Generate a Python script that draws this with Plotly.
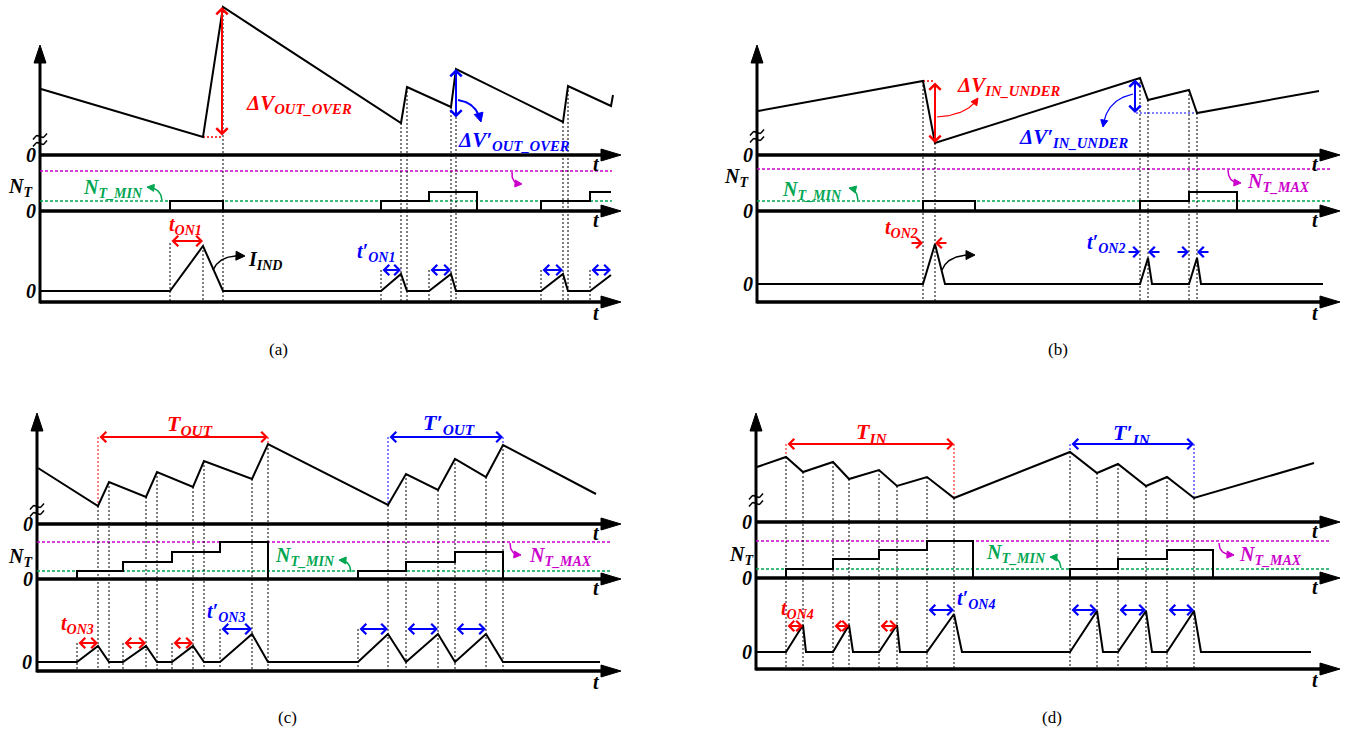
import numpy as np
import plotly.graph_objects as go

W, H = 1347, 730
FONT = "Liberation Serif, Times New Roman, DejaVu Serif, serif"
RED, BLUE, GREEN, MAG, BLACK = "#FF0000", "#0000FF", "#00A651", "#CC00CC", "#000000"

# ---------------- panel (a) data ----------------
A_V_X = [41, 203, 223, 401, 407, 451, 456, 563, 568, 611, 613]
A_V_Y = [89, 137, 7, 123, 87, 107, 69, 122, 86, 106, 95]
A_N_X = [40, 170, 170, 223, 223, 381, 381, 429, 429, 477, 477, 541, 541, 590, 590, 611]
A_N_Y = [211, 211, 201, 201, 211, 211, 201, 201, 192, 192, 211, 211, 201, 201, 192, 192]
A_I_X = [40, 170, 203, 223, 381, 401, 407, 429, 451, 456, 541, 563, 568, 590, 611]
A_I_Y = [291, 291, 246, 291, 291, 274, 291, 291, 274, 291, 291, 274, 291, 291, 275]
A_SYNC_X = [223, 401, 407, 451, 456, 563, 568]
A_ON_X = [170, 203, 381, 429, 541, 590]
A_ON_TOP = [243, 246, 270, 270, 270, 270]
A_TON_RED = [[170, 203]]
A_TON_BLUE = [[381, 401], [429, 451], [541, 563], [590, 611]]

# ---------------- panel (b) data ----------------
B_V_X = [758, 923, 935, 1140, 1148, 1189, 1197, 1319]
B_V_Y = [111, 81, 143, 78, 100, 90, 113, 91]
B_N_X = [757, 923, 923, 975, 975, 1140, 1140, 1189, 1189, 1237, 1237]
B_N_Y = [211, 211, 201, 201, 211, 211, 201, 201, 192, 192, 211]
B_I_X = [757, 923, 935, 945, 1140, 1148, 1152, 1189, 1197, 1201, 1323]
B_I_Y = [284, 284, 244, 284, 284, 258, 284, 284, 258, 284, 284]
B_SYNC_X = [923, 935, 1140, 1148, 1189, 1197]

# ---------------- panel (c) data ----------------
C_V_X = [38, 98, 109, 146, 157, 193, 204, 252, 268, 388, 406, 438, 455, 486, 503, 596]
C_V_Y = [468, 506, 482, 497, 472, 487, 461, 479, 444, 505, 474, 490, 459, 477, 445, 494]
C_N_X = [37, 77, 77, 123, 123, 172, 172, 220, 220, 268, 268, 358, 358, 406, 406, 455, 455, 503, 503]
C_N_Y = [579, 579, 571, 571, 562, 562, 552, 552, 542, 542, 579, 579, 571, 571, 562, 562, 552, 552, 579]
C_I_X = [37, 77, 98, 109, 123, 146, 157, 172, 193, 204, 220, 252, 268, 358, 388, 406, 438, 455, 486, 503, 600]
C_I_Y = [662, 662, 646, 662, 662, 646, 662, 662, 646, 662, 662, 634, 662, 662, 634, 662, 634, 662, 634, 662, 662]
C_SYNC_X = [98, 109, 146, 157, 193, 204, 252, 268, 388, 406, 438, 455, 486, 503]
C_ON_X = [77, 123, 172, 220, 358]
C_ON_TOP = [643, 643, 643, 629, 629]
C_TON_RED = [[77, 98], [123, 146], [172, 193]]
C_TON_BLUE = [[220, 252], [358, 388], [406, 438], [455, 486]]

# ---------------- panel (d) data ----------------
D_V_X = [757, 786, 803, 833, 849, 879, 897, 927, 954, 1070, 1097, 1118, 1146, 1167, 1194, 1314]
D_V_Y = [467, 457, 472, 462, 479, 470, 486, 477, 498, 452, 473, 464, 486, 477, 498, 463]
D_N_X = [756, 786, 786, 833, 833, 879, 879, 927, 927, 973, 973, 1070, 1070, 1118, 1118, 1167, 1167, 1213, 1213]
D_N_Y = [578, 578, 569, 569, 559, 559, 550, 550, 541, 541, 578, 578, 569, 569, 559, 559, 550, 550, 578]
D_I_X = [756, 786, 803, 806, 833, 849, 853, 879, 897, 900, 927, 954, 962, 1070, 1097, 1103, 1118, 1146, 1152, 1167, 1194, 1201, 1311]
D_I_Y = [652, 652, 625, 652, 652, 625, 652, 652, 625, 652, 652, 614, 652, 652, 611, 652, 652, 611, 652, 652, 611, 652, 652]
D_SYNC_X = [786, 803, 833, 849, 879, 897, 927, 954, 1070, 1097, 1118, 1146, 1167, 1194]
D_TON_RED = [[786, 803], [833, 849], [879, 897]]
D_TON_BLUE = [[927, 954], [1070, 1097], [1118, 1146], [1167, 1194]]

# panel frames (layout)
FRAMES = [
    dict(x0=40, xt=621, ytop=45, yv=155, yn=211, yi=302, ymag=171, ygrn=201, xd=612, brk=140),
    dict(x0=757, xt=1340, ytop=45, yv=155, yn=211, yi=302, ymag=169, ygrn=201, xd=1330, brk=136),
    dict(x0=37, xt=621, ytop=413, yv=524, yn=579, yi=671, ymag=542, ygrn=571, xd=612, brk=510),
    dict(x0=756, xt=1340, ytop=413, yv=522, yn=578, yi=669, ymag=541, ygrn=569, xd=1330, brk=500),
]

fig = go.Figure()
ann = []


def line(x, y, color=BLACK, width=2, dash=None):
    fig.add_trace(go.Scatter(x=x, y=y, mode="lines", hoverinfo="skip", showlegend=False,
                             line=dict(color=color, width=width, dash=dash)))


def poly(x, y, color=BLACK):
    fig.add_trace(go.Scatter(x=x, y=y, mode="lines", fill="toself", fillcolor=color,
                             hoverinfo="skip", showlegend=False, line=dict(color=color, width=1)))


def text(x, y, s, color=BLACK, size=18, xanchor="left", bold=True, italic=True, angle=0):
    t = s
    if italic:
        t = "<i>" + t + "</i>"
    if bold:
        t = "<b>" + t + "</b>"
    ann.append(dict(x=x, y=y, xref="x", yref="y", text=t, showarrow=False, xanchor=xanchor,
                    yanchor="middle", textangle=angle,
                    font=dict(family=FONT, size=size, color=color)))


def arrow(x0, y0, x1, y1, color, width=2, both=False, head=4, size=1.0):
    ann.append(dict(x=x1, y=y1, ax=x0, ay=y0, xref="x", yref="y", axref="x", ayref="y",
                    text="", showarrow=True, arrowhead=head, arrowsize=size, arrowwidth=width,
                    arrowcolor=color, arrowside="end+start" if both else "end",
                    startarrowhead=head, startarrowsize=size, standoff=0, startstandoff=0,
                    font=dict(size=10)))


def head(tip, frm, color, length=7.0, half=3.5):
    d = np.array(tip, float) - np.array(frm, float)
    d = d / np.hypot(*d)
    n = np.array([-d[1], d[0]])
    base = np.array(tip, float) - length * d
    p1 = base + half * n
    p2 = base - half * n
    poly([tip[0], p1[0], p2[0], tip[0]], [tip[1], p1[1], p2[1], tip[1]], color)


def curved(p0, c, p1, color, width=1.5, hl=7.0, hw=3.5):
    t = np.linspace(0, 1, 40)
    bx = (1 - t) ** 2 * p0[0] + 2 * (1 - t) * t * c[0] + t ** 2 * p1[0]
    by = (1 - t) ** 2 * p0[1] + 2 * (1 - t) * t * c[1] + t ** 2 * p1[1]
    line(list(bx[:-4]), list(by[:-4]), color=color, width=width)
    head((bx[-1], by[-1]), (bx[-6], by[-6]), color, hl, hw)


DOT = "2px,2px"

# ---------------- frames: axes, reference levels ----------------
for f in FRAMES:
    for yy in (f["yv"], f["yn"], f["yi"]):
        line([f["x0"], f["xt"] - 16], [yy, yy], width=3.5)
        poly([f["xt"] - 20, f["xt"], f["xt"] - 20, f["xt"] - 20], [yy - 6, yy, yy + 6, yy - 6])
    line([f["x0"], f["x0"]], [f["yi"] + 1.5, f["ytop"] + 15], width=3)
    poly([f["x0"] - 6, f["x0"], f["x0"] + 6, f["x0"] - 6], [f["ytop"] + 18, f["ytop"], f["ytop"] + 18, f["ytop"] + 18])
    line([f["x0"], f["xd"]], [f["ymag"], f["ymag"]], color=MAG, width=1.5, dash="3px,2px")
    line([f["x0"], f["xd"]], [f["ygrn"], f["ygrn"]], color=GREEN, width=1.5, dash="3px,2px")
    # axis break squiggles
    u = np.linspace(-1, 1, 15)
    for off in (-3.5, 3.5):
        line(list(f["x0"] + 7 * u), list(f["brk"] + off - 3 * u + 2.2 * np.sin(np.pi * u)), width=1.5)
    text(f["x0"] - 9, f["yv"], "0", xanchor="center", size=20)
    text(f["x0"] - 9, f["yn"], "0", xanchor="center", size=20)
    text(f["xt"] - 25, f["yv"] + 9, "t", xanchor="center", size=20)
    text(f["xt"] - 25, f["yn"] + 9, "t", xanchor="center", size=20)
    text(f["xt"] - 25, f["yi"] + 11, "t", xanchor="center", size=20)

# I-axis zero labels
text(31, 291, "0", xanchor="center", size=20)
text(748, 284, "0", xanchor="center", size=20)
text(27, 662, "0", xanchor="center", size=20)
text(747, 652, "0", xanchor="center", size=20)


def sync_lines(vx, vy, xs, ybot):
    for xx in xs:
        ytop = float(np.interp(xx, vx, vy))
        line([xx, xx], [ytop, ybot], width=1, dash=DOT)


# ---------------- panel (a) ----------------
sync_lines(A_V_X, A_V_Y, A_SYNC_X, 302)
for xx, yt in zip(A_ON_X, A_ON_TOP):
    line([xx, xx], [yt, 302], width=1, dash=DOT)
line([203, 223], [137, 137], color=RED, width=1.5, dash=DOT)
line(A_V_X, A_V_Y)
line(A_N_X, A_N_Y)
line(A_I_X, A_I_Y)
arrow(222, 137, 222, 7, RED, width=2, both=True, size=1.1)
arrow(456, 119, 456, 69, BLUE, width=2, both=True, size=1.1)
for a, b in A_TON_RED:
    arrow(a, 241, b, 241, RED, width=2, both=True)
for a, b in A_TON_BLUE:
    arrow(a, 270, b, 270, BLUE, width=2, both=True)
curved((458, 100), (477, 103), (481, 122), BLUE, width=2, hl=9, hw=4.5)
curved((213, 270), (220, 254), (245, 256), BLACK, width=1.5, hl=9, hw=4.5)
curved((162, 200), (161, 188), (147, 187), GREEN)
curved((512, 172), (511, 184), (522, 184), MAG)
text(244, 104, "ΔV<sub>OUT_OVER</sub>", RED, size=21)
text(456, 141, "ΔV′<sub>OUT_OVER</sub>", BLUE, size=21)
text(6, 187, "N<sub>T</sub>", size=20)
text(81, 188, "N<sub>T_MIN</sub>", GREEN, size=20)
text(167, 225, "t<sub>ON1</sub>", RED, size=20)
text(246, 260, "I<sub>IND</sub>", size=20)
text(355, 252, "t′<sub>ON1</sub>", BLUE, size=20)
text(278, 349, "(a)", size=17, xanchor="center", bold=False, italic=False)

# ---------------- panel (b) ----------------
sync_lines(B_V_X, B_V_Y, B_SYNC_X, 302)
line([923, 935], [81, 81], color=RED, width=1.5, dash=DOT)
line([1136, 1197], [113, 113], color=BLUE, width=1, dash=DOT)
line(B_V_X, B_V_Y)
line(B_N_X, B_N_Y)
line(B_I_X, B_I_Y)
arrow(935, 81, 935, 143, RED, width=2, both=True, size=1.1)
arrow(1135, 78, 1135, 113, BLUE, width=2, both=True, size=1.1)
arrow(910, 243, 923, 243, RED, width=2)
arrow(948, 243, 935, 243, RED, width=2)
arrow(1127, 252, 1140, 252, BLUE, width=2)
arrow(1161, 252, 1148, 252, BLUE, width=2)
arrow(1176, 252, 1189, 252, BLUE, width=2)
arrow(1210, 252, 1197, 252, BLUE, width=2)
curved((937, 117), (968, 115), (978, 98), RED, width=1.2)
curved((1133, 94), (1106, 100), (1103, 127), BLUE, width=1.2)
curved((942, 270), (948, 254), (975, 255), BLACK, width=1.5, hl=9, hw=4.5)
curved((858, 200), (857, 189), (849, 188), GREEN)
curved((1228, 170), (1228, 183), (1241, 183), MAG)
text(955, 86, "ΔV<sub>IN_UNDER</sub>", RED, size=21)
text(1017, 138, "ΔV′<sub>IN_UNDER</sub>", BLUE, size=21)
text(722, 177, "N<sub>T</sub>", size=20)
text(780, 190, "N<sub>T_MIN</sub>", GREEN, size=20)
text(1245, 182, "N<sub>T_MAX</sub>", MAG, size=20)
text(883, 228, "t<sub>ON2</sub>", RED, size=20)
text(1085, 243, "t′<sub>ON2</sub>", BLUE, size=20)
text(1058, 349, "(b)", size=17, xanchor="center", bold=False, italic=False)

# ---------------- panel (c) ----------------
sync_lines(C_V_X, C_V_Y, C_SYNC_X, 671)
for xx, yt in zip(C_ON_X, C_ON_TOP):
    line([xx, xx], [yt, 671], width=1, dash=DOT)
line([98, 98], [437, 506], color=RED, width=1, dash=DOT)
line([268, 268], [437, 444], color=RED, width=1, dash=DOT)
line([388, 388], [437, 505], color=BLUE, width=1, dash=DOT)
line([503, 503], [437, 445], color=BLUE, width=1, dash=DOT)
line(C_V_X, C_V_Y)
line(C_N_X, C_N_Y)
line(C_I_X, C_I_Y)
arrow(98, 437, 268, 437, RED, width=2, both=True)
arrow(388, 437, 503, 437, BLUE, width=2, both=True)
for a, b in C_TON_RED:
    arrow(a, 643, b, 643, RED, width=2, both=True)
for a, b in C_TON_BLUE:
    arrow(a, 629, b, 629, BLUE, width=2, both=True)
curved((351, 572), (350, 560), (339, 560), GREEN)
curved((510, 543), (510, 555), (521, 555), MAG)
text(165, 425, "T<sub>OUT</sub>", RED, size=22)
text(421, 424, "T′<sub>OUT</sub>", BLUE, size=22)
text(6, 557, "N<sub>T</sub>", size=20)
text(273, 556, "N<sub>T_MIN</sub>", GREEN, size=20)
text(527, 556, "N<sub>T_MAX</sub>", MAG, size=20)
text(59, 624, "t<sub>ON3</sub>", RED, size=20)
text(205, 612, "t′<sub>ON3</sub>", BLUE, size=20)
text(287, 717, "(c)", size=17, xanchor="center", bold=False, italic=False)

# ---------------- panel (d) ----------------
sync_lines(D_V_X, D_V_Y, D_SYNC_X, 669)
line([786, 786], [444, 457], color=RED, width=1, dash=DOT)
line([954, 954], [444, 498], color=RED, width=1, dash=DOT)
line([1070, 1070], [444, 452], color=BLUE, width=1, dash=DOT)
line([1194, 1194], [444, 498], color=BLUE, width=1, dash=DOT)
line(D_V_X, D_V_Y)
line(D_N_X, D_N_Y)
line(D_I_X, D_I_Y)
arrow(786, 444, 954, 444, RED, width=2, both=True)
arrow(1070, 444, 1194, 444, BLUE, width=2, both=True)
for a, b in D_TON_RED:
    arrow(a, 626, b, 626, RED, width=2, both=True)
for a, b in D_TON_BLUE:
    arrow(a, 610, b, 610, BLUE, width=2, both=True)
curved((1061, 568), (1060, 557), (1050, 557), GREEN)
curved((1219, 543), (1219, 555), (1234, 555), MAG)
text(854, 433, "T<sub>IN</sub>", RED, size=22)
text(1111, 434, "T′<sub>IN</sub>", BLUE, size=22)
text(727, 555, "N<sub>T</sub>", size=20)
text(984, 553, "N<sub>T_MIN</sub>", GREEN, size=20)
text(1237, 555, "N<sub>T_MAX</sub>", MAG, size=20)
text(779, 609, "t<sub>ON4</sub>", RED, size=20)
text(955, 599, "t′<sub>ON4</sub>", BLUE, size=20)
text(1052, 717, "(d)", size=17, xanchor="center", bold=False, italic=False)

fig.update_layout(
    width=W, height=H, margin=dict(l=0, r=0, t=0, b=0),
    paper_bgcolor="white", plot_bgcolor="white", showlegend=False,
    xaxis=dict(range=[0, W], visible=False, fixedrange=True),
    yaxis=dict(range=[H, 0], visible=False, fixedrange=True),
    annotations=ann,
)
fig.write_html("out.html", config=dict(displayModeBar=False),
               post_script="document.body.style.margin='0px';document.body.style.overflow='hidden';")
